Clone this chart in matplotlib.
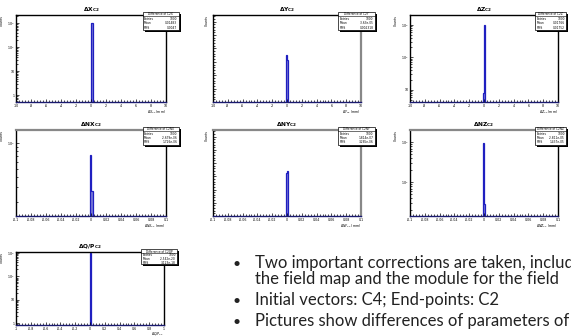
import math
import matplotlib
matplotlib.use('Agg')
import matplotlib.pyplot as plt
from matplotlib.patches import Rectangle
from matplotlib.ticker import AutoMinorLocator, FuncFormatter, NullFormatter, MultipleLocator, LogLocator

plt.rcParams['mathtext.fontset'] = 'dejavusans'

# histogram contents (non-empty bins only: edges and counts)
dx_edges = [0.0, 0.2]
dx_counts = [1000]
dy_edges = [-0.2, 0.0, 0.2]
dy_counts = [350, 312]
dz_edges = [-0.2, 0.0, 0.2]
dz_counts = [8, 992]
dnx_edges = [-0.002, 0.0, 0.002]
dnx_counts = [730, 270]
dny_edges = [-0.002, 0.0, 0.002]
dny_counts = [325, 342]
dnz_edges = [-0.002, 0.0, 0.002]
dnz_counts = [972, 28]
dqp_edges = [0.0, 0.02]
dqp_counts = [1000]

titles = [r'$\mathbf{\Delta X_{C2}}$', r'$\mathbf{\Delta Y_{C2}}$', r'$\mathbf{\Delta Z_{C2}}$',
          r'$\mathbf{\Delta NX_{C2}}$', r'$\mathbf{\Delta NY_{C2}}$', r'$\mathbf{\Delta NZ_{C2}}$',
          r'$\mathbf{\Delta Q/P_{C2}}$']
xtitles = [r'$\Delta X_{C2}$ (mm)', r'$\Delta Y_{C2}$ (mm)', r'$\Delta Z_{C2}$ (mm)',
           r'$\Delta NX_{C2}$ (mm)', r'$\Delta NY_{C2}$ (mm)', r'$\Delta NZ_{C2}$ (mm)',
           r'$\Delta Q/P_{C2}$']
stat_names = ['Difference of C2X', 'Difference of C2Y', 'Difference of C2Z',
              'Difference of C2NX', 'Difference of C2NY', 'Difference of C2NZ',
              'Difference of C2QP']
entries = [1000, 1000, 1000, 1000, 1000, 1000, 1000]
means = ['0.01483', '-3.63e-05', '0.01766', '-2.679e-06', '1.814e-07', '-2.811e-05', '-2.542e-20']
rmss = ['0.0047', '0.002318', '0.01752', '1.726e-06', '3.265e-06', '1.437e-05', '3.123e-18']

bullets = ['Two important corrections are taken, including',
           'the field map and the module for the field',
           'Initial vectors: C4; End-points: C2',
           'Pictures show differences of parameters of']

W, H = 571, 336
fig = plt.figure(figsize=(W / 100, H / 100), dpi=100)

def axes_px(l, t, r, b):
    return fig.add_axes([l / W, 1 - b / H, (r - l) / W, (b - t) / H])

def logfmt(v, pos):
    if v == 1:
        return '1'
    if v == 10:
        return '10'
    return r'$10^{%d}$' % round(math.log10(v))

def linfmt(v, pos):
    if abs(v) < 1e-9:
        return '0'
    return '%g' % round(v, 4)

# panel settings: rect, data, xrange, xstep, log?, ylim, spine colours (top, right), stats box right edge
panels = [
    ((16, 15, 166, 102), dx_edges, dx_counts, (-10, 10), 2, True, (0.53, 2200), ('k', 'k'), 1.085),
    ((213, 15, 361, 102), dy_edges, dy_counts, (-10, 10), 2, False, (0, 650), ('k', '#888888'), 1.095),
    ((410, 15, 558, 102), dz_edges, dz_counts, (-10, 10), 2, True, (4.2, 2000), ('k', 'k'), 1.055),
    ((16, 130, 166, 216), dnx_edges, dnx_counts, (-0.1, 0.1), 0.02, True, (138, 1420), ('#888888', 'k'), 1.085),
    ((213, 130, 361, 216), dny_edges, dny_counts, (-0.1, 0.1), 0.02, False, (0, 650), ('#888888', '#888888'), 1.095),
    ((410, 130, 558, 216), dnz_edges, dnz_counts, (-0.1, 0.1), 0.02, True, (14.4, 2030), ('#888888', 'k'), 1.055),
    ((16, 252, 164, 325), dqp_edges, dqp_counts, (-1, 1), 0.2, True, (0.85, 1100), ('k', 'k'), 1.09),
]

for i, (rect, edges, counts, xr, xstep, logy, ylim, scol, boxr) in enumerate(panels):
    ax = axes_px(*rect)
    if logy:
        ax.set_yscale('log')
    ax.set_xlim(*xr)
    ax.set_ylim(*ylim)
    base = ylim[0] if logy else 0
    ax.stairs(counts, edges, baseline=base, fill=True, color='#7a7ad6', lw=0)
    ax.stairs(counts, edges, baseline=base, color='#1f1fc0', lw=0.9)

    ax.xaxis.set_major_locator(MultipleLocator(xstep))
    ax.xaxis.set_minor_locator(AutoMinorLocator(5))
    ax.xaxis.set_major_formatter(FuncFormatter(linfmt))
    if logy:
        ax.yaxis.set_major_locator(LogLocator(base=10))
        ax.yaxis.set_minor_locator(LogLocator(base=10, subs=range(2, 10)))
        ax.yaxis.set_major_formatter(FuncFormatter(logfmt))
        ax.yaxis.set_minor_formatter(NullFormatter())
    else:
        ax.yaxis.set_major_locator(MultipleLocator(100))
        ax.yaxis.set_minor_locator(MultipleLocator(20))
        ax.yaxis.set_major_formatter(NullFormatter())

    ax.tick_params(which='both', direction='in', labelsize=2.3, width=0.5, pad=1.2)
    ax.tick_params(which='major', length=2.5)
    ax.tick_params(which='minor', length=1.2)
    ax.tick_params(axis='y', which='minor', length=1.6)
    for s in ax.spines.values():
        s.set_linewidth(1.0)
        s.set_color('k')
    ax.spines['top'].set_color(scol[0])
    ax.spines['right'].set_color(scol[1])
    ax.spines['bottom'].set_color('#1a1a70')
    if scol[0] != 'k':
        ax.spines['top'].set_linewidth(1.6)
    if scol[1] != 'k':
        ax.spines['right'].set_linewidth(1.6)

    ax.set_title(titles[i], fontsize=4.2, pad=3)
    ax.set_xlabel(xtitles[i], fontsize=2.3, loc='right', labelpad=0.2)
    ax.set_ylabel('Counts', fontsize=2.3, loc='top', labelpad=2)

    # stats box
    bl, bb, bt = 0.845, 0.83, 1.035
    ax.add_patch(Rectangle((bl + 0.012, bb - 0.025), boxr - bl, bt - bb, transform=ax.transAxes,
                           facecolor='black', edgecolor='none', clip_on=False, zorder=5))
    ax.add_patch(Rectangle((bl, bb), boxr - bl, bt - bb, transform=ax.transAxes,
                           facecolor='white', edgecolor='black', lw=0.5, clip_on=False, zorder=6))
    rowh = (bt - bb) / 4
    ax.plot([bl, boxr], [bt - rowh, bt - rowh], transform=ax.transAxes, color='k', lw=0.4,
            clip_on=False, zorder=7)
    ax.text((bl + boxr) / 2, bt - rowh / 2, stat_names[i], transform=ax.transAxes, fontsize=2.1,
            ha='center', va='center', zorder=8)
    rows = [('Entries', str(entries[i])), ('Mean', means[i]), ('RMS', rmss[i])]
    for k, (nm, val) in enumerate(rows):
        yy = bt - rowh * (k + 1.5)
        ax.text(bl + 0.01, yy, nm, transform=ax.transAxes, fontsize=2.1, ha='left', va='center', zorder=8)
        ax.text(boxr - 0.01, yy, val, transform=ax.transAxes, fontsize=2.1, ha='right', va='center', zorder=8)

# bullet text (runs off the right edge like the slide)
baselines = [268, 284, 305, 326]
for k, line in enumerate(bullets):
    if k != 1:
        fig.text(233 / W, 1 - baselines[k] / H, '\u2022', fontsize=10, family='Lato',
                 va='baseline', ha='left', color='#222222')
    fig.text(255 / W, 1 - baselines[k] / H, line, fontsize=12, family='Lato',
             va='baseline', ha='left', color='#222222')

fig.savefig('out.png', dpi=100)
